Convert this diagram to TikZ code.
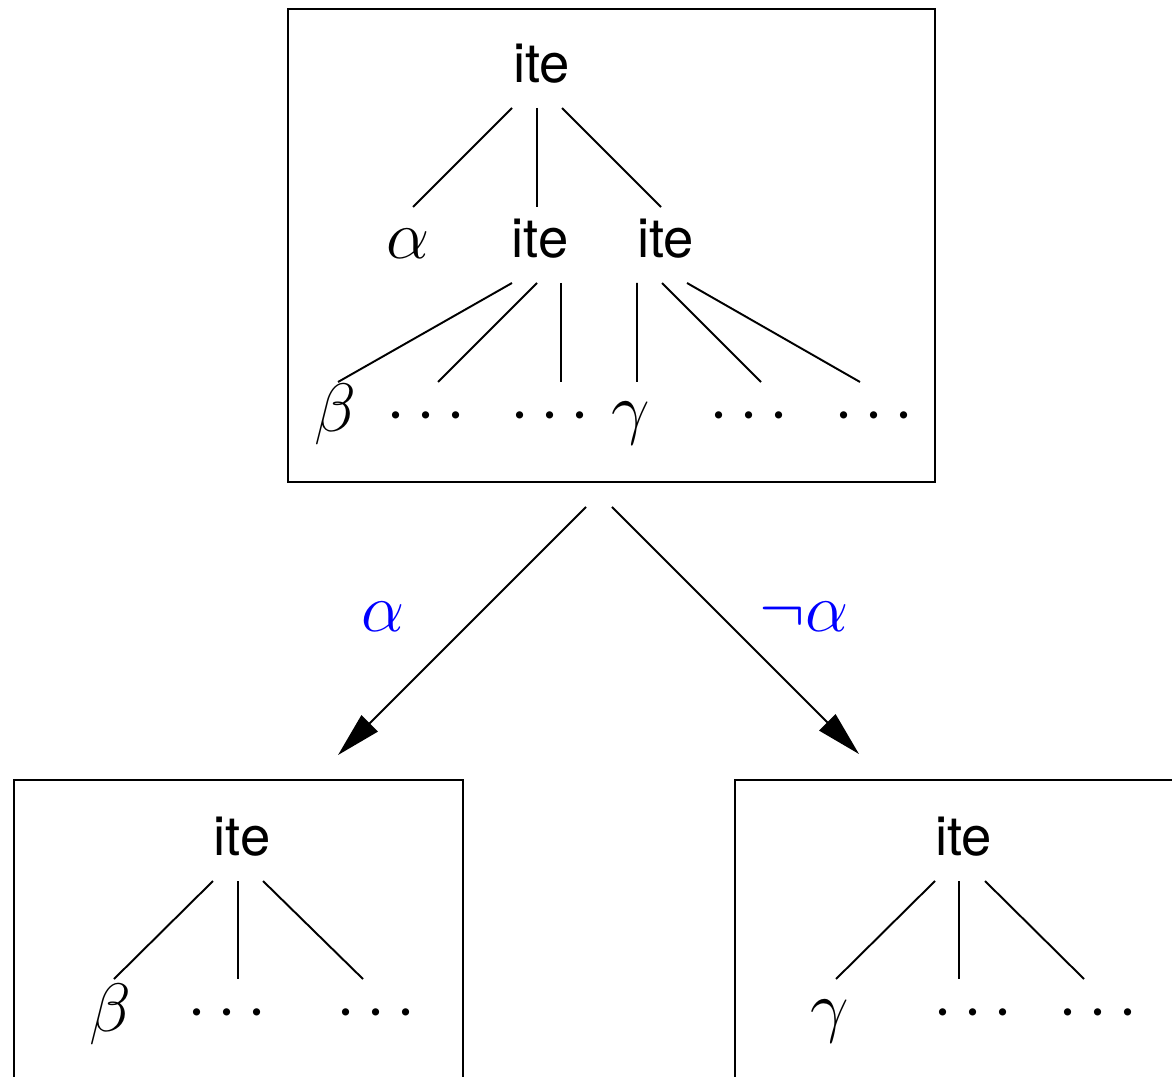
\RequirePackage{fix-cm}
\documentclass[tikz,border=0pt]{standalone}
\usepackage{fontspec}
\newfontfamily\itefont{TeX Gyre Heros}
\usetikzlibrary{calc,arrows.meta}
\newcommand\treeedge[4]{\draw[treeline] ($(#1.base)+(#2)$) -- ($(#3.base)+(#4)$);}
\begin{document}
\begin{tikzpicture}[x=0.02cm,y=-0.02cm,
  sanslab/.style={font=\fontsize{31}{36}\selectfont\itefont, inner sep=0pt, anchor=base},
  mathlab/.style={font=\fontsize{39}{45}\selectfont, inner sep=0pt, anchor=base},
  bluelab/.style={mathlab, text=blue},
  treeline/.style={line width=1.1pt},
  boxnode/.style={draw, line width=1.6pt, inner sep=0pt, outer sep=0pt},
  arr/.style={line width=1.1pt, -{Triangle[length=25.5pt,width=13pt]}}]
\useasboundingbox (0,0) rectangle (1172,1077);
\clip (0,0) rectangle (1172,1077);
% boxes
\node[boxnode, minimum width=12.94cm, minimum height=9.46cm] (topbox) at (611.5,245.5) {};
\node[boxnode, minimum width=8.98cm, minimum height=7cm] (lbox) at (238.5,955) {};
\node[boxnode, minimum width=9.9cm, minimum height=7cm] (rbox) at (982.5,955) {};
% top tree
\node[sanslab] (t0) at (541.5,83) {ite};
\node[mathlab] (a1) at (408.5,259) {$\alpha$};
\node[sanslab] (t1) at (540,258) {ite};
\node[sanslab] (t2) at (665.5,258) {ite};
\node[mathlab] (b1) at (335,431) {$\beta$};
\node[mathlab] (d1) at (426,432) {$\cdots$};
\node[mathlab] (d2) at (550,432) {$\cdots$};
\node[mathlab] (g1) at (630.5,431) {$\gamma$};
\node[mathlab] (d3) at (749,432) {$\cdots$};
\node[mathlab] (d4) at (874,432) {$\cdots$};
\treeedge{t0}{-29.5,25}{a1}{4.5,-52}
\treeedge{t0}{-4.5,25}{t1}{-3,-51}
\treeedge{t0}{20.5,25}{t2}{-4.5,-51}
\treeedge{t1}{-28,25}{b1}{3,-49}
\treeedge{t1}{-3,25}{d1}{12,-50}
\treeedge{t1}{21,25}{d2}{11,-50}
\treeedge{t2}{-28.5,25}{g1}{6.5,-49}
\treeedge{t2}{-3.5,25}{d3}{12,-50}
\treeedge{t2}{21.5,25}{d4}{-14,-50}
% bottom left tree
\node[sanslab] (t3) at (242,855) {ite};
\node[mathlab] (b2) at (110,1031) {$\beta$};
\node[mathlab] (d5) at (227,1029) {$\cdots$};
\node[mathlab] (d6) at (376,1029) {$\cdots$};
\treeedge{t3}{-29,26}{b2}{4,-52}
\treeedge{t3}{-4,26}{d5}{11,-50}
\treeedge{t3}{21,26}{d6}{-13,-50}
% bottom right tree
\node[sanslab] (t4) at (963.5,855) {ite};
\node[mathlab] (g2) at (830,1029) {$\gamma$};
\node[mathlab] (d7) at (973,1029) {$\cdots$};
\node[mathlab] (d8) at (1098,1029) {$\cdots$};
\treeedge{t4}{-28.5,26}{g2}{6,-50}
\treeedge{t4}{-4.5,26}{d7}{-14,-50}
\treeedge{t4}{21.5,26}{d8}{-14,-50}
% arrows
\draw[arr] ($(topbox.south)+(-25.5,25)$) -- ($(lbox.north)+(99.5,-25)$);
\draw[arr] ($(topbox.south)+(0.5,25)$) -- ($(rbox.north)+(-123.5,-26)$);
\node[bluelab] (l1) at (383.5,631) {$\alpha$};
\node[bluelab] (l2) at (804,631) {$\neg\alpha$};
\end{tikzpicture}
\end{document}
